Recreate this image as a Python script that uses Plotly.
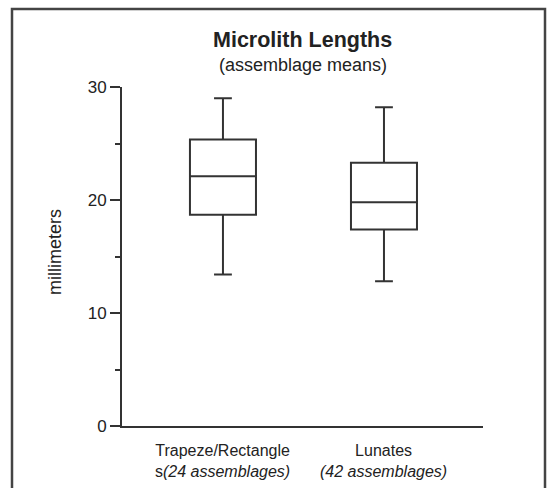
import plotly.graph_objects as go

# ---- data ----
categories = ["Trapeze/Rectangles", "Lunates"]
label_line1 = ["Trapeze/Rectangle", "Lunates"]
label_line2 = ["s<i>(24 assemblages)</i>", "<i>(42 assemblages)</i>"]
lower_whisker = [13.4, 12.8]
q1 = [18.7, 17.4]
median = [22.1, 19.8]
q3 = [25.35, 23.3]
upper_whisker = [29.0, 28.2]
major_ticks = [0, 10, 20, 30]
minor_ticks = [5, 15, 25]

INK = "#333333"
FONT = "Liberation Sans, Arial, Helvetica, sans-serif"

fig = go.Figure()
fig.add_trace(go.Box(
    x=categories,
    q1=q1, median=median, q3=q3,
    lowerfence=lower_whisker, upperfence=upper_whisker,
    width=0.41, whiskerwidth=0.27,
    line=dict(color=INK, width=2),
    fillcolor="white",
    boxpoints=False,
    showlegend=False,
    hoverinfo="skip",
))

# plot area: x 122..483 px, y 87..426 px
L, R, T, B = 122, 66, 87, 62
W = 549 - L - R
H = 488 - T - B

def px(xp):
    return (xp - L) / W

def py(yp):
    return (488 - B - yp) / H

annotations = [
    dict(text="<b>Microlith Lengths</b>", x=0.5, y=py(40), xref="paper", yref="paper",
         xanchor="center", yanchor="middle", showarrow=False,
         font=dict(family=FONT, size=21.5, color="#222")),
    dict(text="(assemblage means)", x=0.5, y=py(65), xref="paper", yref="paper",
         xanchor="center", yanchor="middle", showarrow=False,
         font=dict(family=FONT, size=18, color="#222")),
    dict(text="millimeters", x=px(55), y=py(252), xref="paper", yref="paper",
         xanchor="center", yanchor="middle", showarrow=False, textangle=-90,
         font=dict(family=FONT, size=18, color="#222")),
]
for cat, l1, l2 in zip(categories, label_line1, label_line2):
    annotations.append(dict(
        text=f"{l1}<br>{l2}", x=cat, y=py(461), xref="x", yref="paper",
        xanchor="center", yanchor="middle", showarrow=False,
        font=dict(family=FONT, size=16, color="#222"),
    ))

fig.update_layout(
    width=549, height=488,
    margin=dict(l=L, r=R, t=T, b=B),
    paper_bgcolor="white", plot_bgcolor="white",
    font=dict(family=FONT, color="#222"),
    annotations=annotations,
    shapes=[dict(type="rect", xref="paper", yref="paper",
                 x0=px(12), x1=px(545), y0=py(510), y1=py(9),
                 line=dict(color="#444", width=2.5), layer="below")],
    xaxis=dict(
        type="category", categoryorder="array", categoryarray=categories,
        range=[-0.627, 1.615], showline=True, linecolor=INK, linewidth=2,
        showticklabels=False, ticks="", showgrid=False, zeroline=False,
        fixedrange=True,
    ),
    yaxis=dict(
        range=[0, 30], tickvals=major_ticks, showline=True, linecolor=INK,
        linewidth=2, ticks="outside", ticklen=10, tickwidth=2, tickcolor=INK,
        tickfont=dict(family=FONT, size=17, color="#222"),
        minor=dict(tickvals=minor_ticks, ticks="outside", ticklen=5,
                   tickwidth=1.5, tickcolor=INK, showgrid=False),
        showgrid=False, zeroline=False, fixedrange=True,
    ),
)

fig.write_html("out.html")
